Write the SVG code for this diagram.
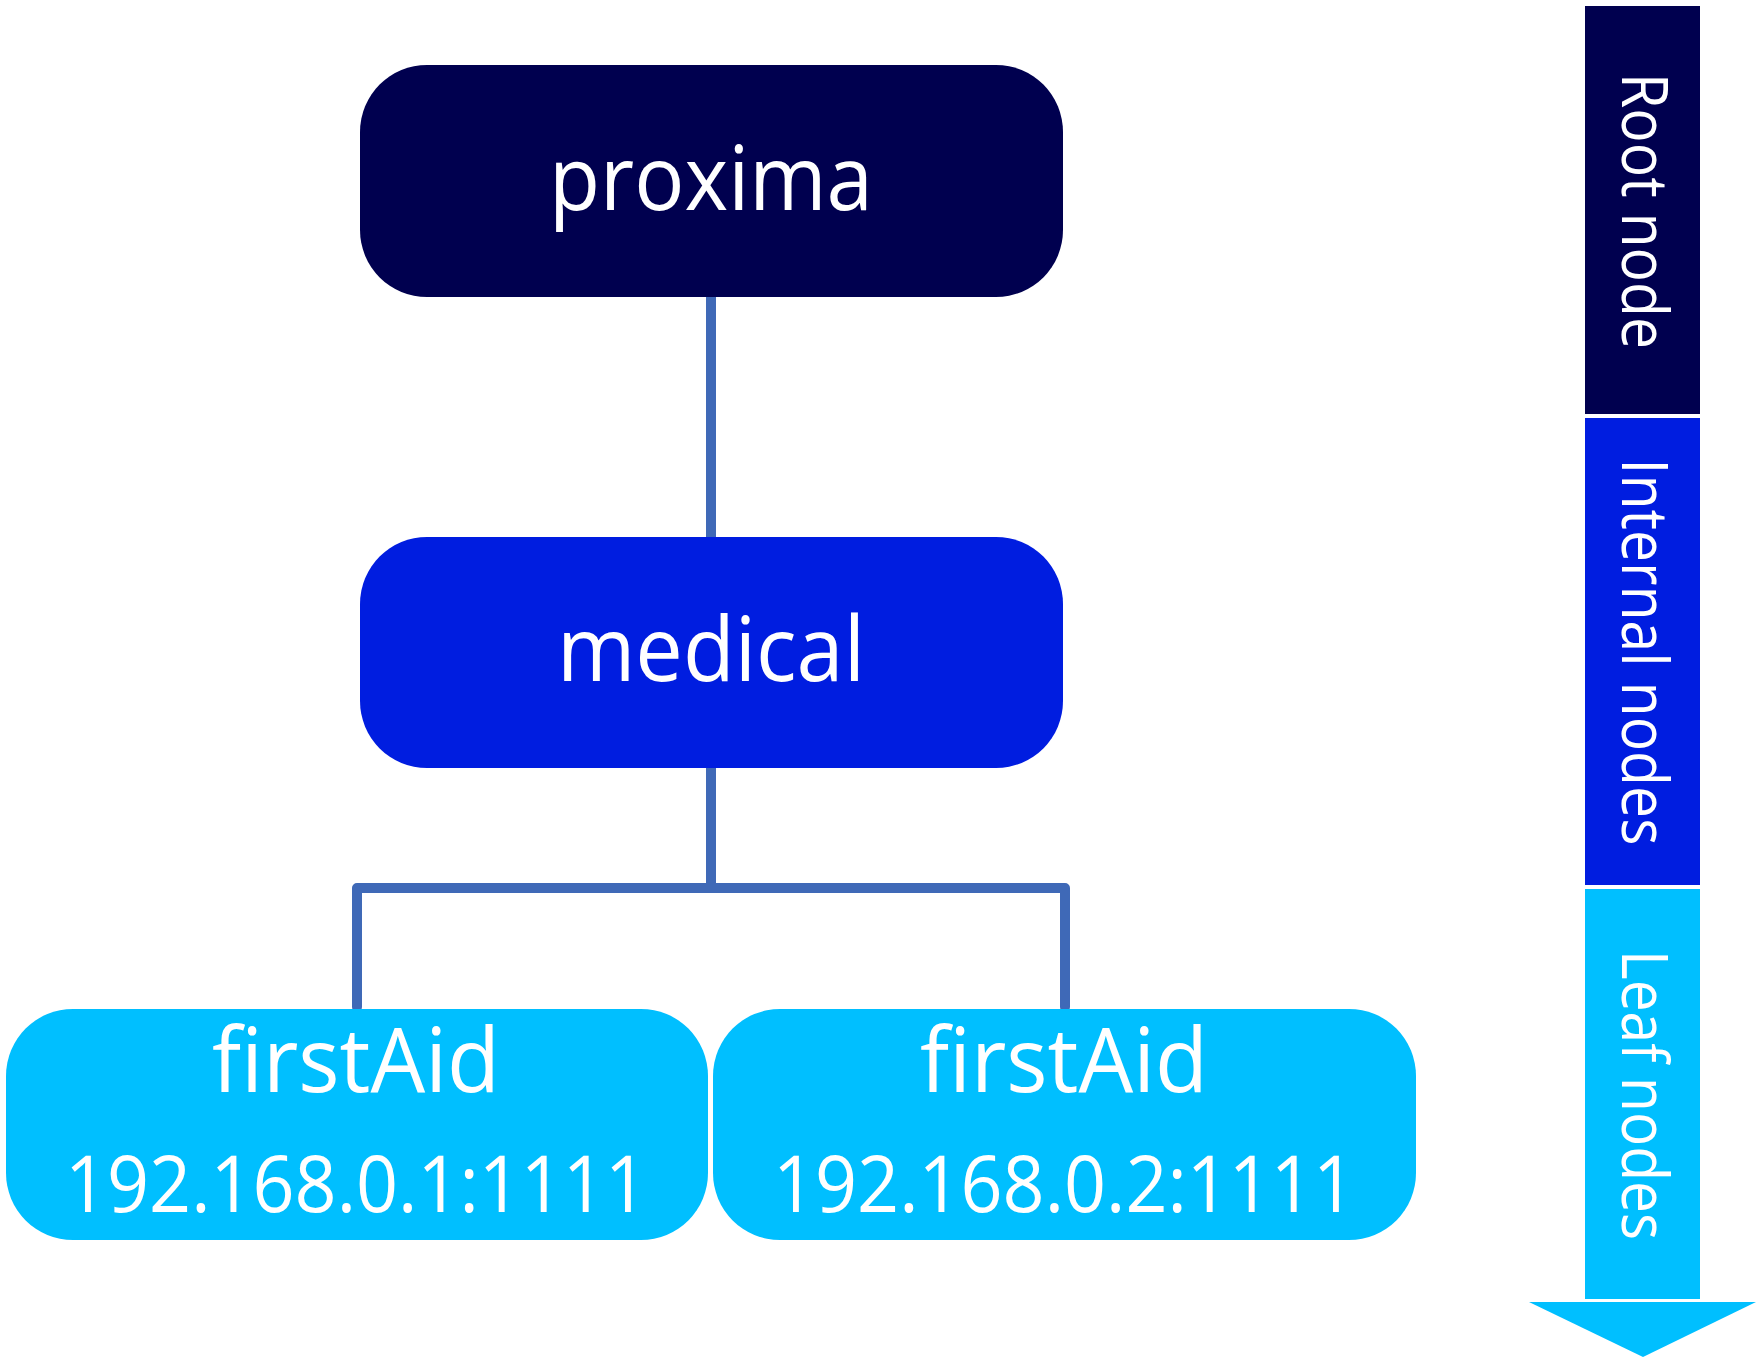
<svg xmlns="http://www.w3.org/2000/svg" width="1763" height="1363" viewBox="0 0 1763 1363">
<style>
.lbl{font-family:"Open Sans","Noto Sans","Liberation Sans",sans-serif;fill:#ffffff;text-anchor:middle}
.conn{fill:none;stroke:#3F69B7;stroke-width:10;stroke-linecap:round;stroke-linejoin:round}
.root{fill:#00004F}
.internal{fill:#001DE0}
.leaf{fill:#00BFFF}
</style>
<rect width="1763" height="1363" fill="#ffffff"/>
<g id="connectors">
<path class="conn" d="M711,297 V537"/>
<path class="conn" d="M711,768 V888"/>
<path class="conn" d="M357,1007 V888 H1065 V1007"/>
</g>
<g id="node-proxima">
<rect class="root" x="360" y="65" width="703" height="232" rx="67" ry="67"/>
<text class="lbl" x="711" y="210" font-size="90" textLength="324" lengthAdjust="spacingAndGlyphs">proxima</text>
</g>
<g id="node-medical">
<rect class="internal" x="360" y="537" width="703" height="231" rx="67" ry="67"/>
<text class="lbl" x="711" y="681" font-size="90" textLength="308" lengthAdjust="spacingAndGlyphs">medical</text>
</g>
<g id="node-leaf1">
<rect class="leaf" x="6" y="1009" width="702" height="231" rx="67" ry="67"/>
<text class="lbl" x="356" y="1092" font-size="90" textLength="288" lengthAdjust="spacingAndGlyphs">firstAid</text>
<text class="lbl" x="356" y="1212" font-size="78" textLength="582" lengthAdjust="spacingAndGlyphs">192.168.0.1:1111</text>
</g>
<g id="node-leaf2">
<rect class="leaf" x="713" y="1009" width="703" height="231" rx="67" ry="67"/>
<text class="lbl" x="1064" y="1092" font-size="90" textLength="288" lengthAdjust="spacingAndGlyphs">firstAid</text>
<text class="lbl" x="1064" y="1212" font-size="78" textLength="582" lengthAdjust="spacingAndGlyphs">192.168.0.2:1111</text>
</g>
<g id="legend">
<rect class="root" x="1585" y="6" width="115" height="408"/>
<rect class="internal" x="1585" y="418" width="115" height="467"/>
<rect class="leaf" x="1585" y="889" width="115" height="410"/>
<polygon class="leaf" points="1529,1302 1756,1302 1643,1357"/>
<text class="lbl" transform="translate(1646,211) rotate(90)" dominant-baseline="central" font-size="64" textLength="276" lengthAdjust="spacingAndGlyphs">Root node</text>
<text class="lbl" transform="translate(1646,652) rotate(90)" dominant-baseline="central" font-size="64" textLength="387" lengthAdjust="spacingAndGlyphs">Internal nodes</text>
<text class="lbl" transform="translate(1646,1095) rotate(90)" dominant-baseline="central" font-size="64" textLength="290" lengthAdjust="spacingAndGlyphs">Leaf nodes</text>
</g>
</svg>
